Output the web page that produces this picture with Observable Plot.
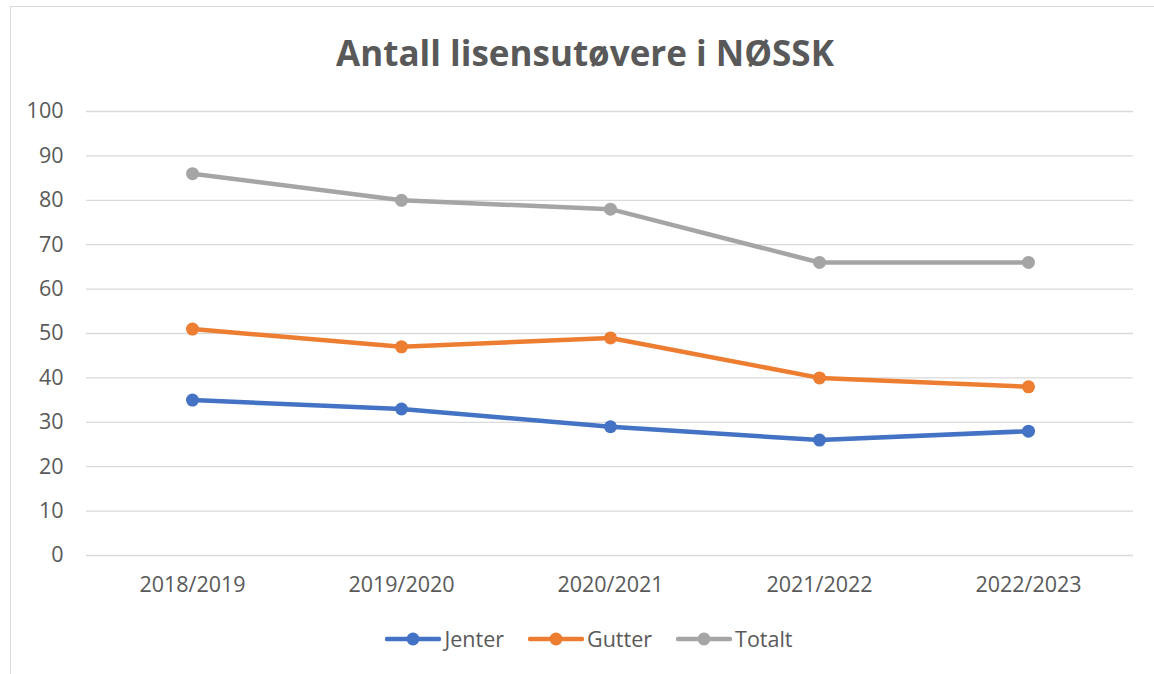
<!DOCTYPE html>
<html>
<head>
<meta charset="utf-8">
<script src="https://cdn.jsdelivr.net/npm/d3@7"></script>
<script src="https://cdn.jsdelivr.net/npm/@observablehq/plot@0.6"></script>
<style>
  html, body { margin: 0; padding: 0; background: #fff; }
  body { width: 1154px; height: 674px; overflow: hidden; position: relative; font-family: "Open Sans", sans-serif; color: #595959; }
  #frame { position: absolute; left: 10px; top: 6px; width: 1300px; height: 800px; border: 1.5px solid #D9D9D9; box-sizing: border-box; }
  #title { position: absolute; left: 0; top: 35px; width: 1170px; text-align: center; font-size: 35px; line-height: 36px; font-weight: 700; color: #595959; }
  #chart { position: absolute; left: 0; top: 0; }
  #legend { position: absolute; left: 0; top: 625px; width: 1178px; display: flex; justify-content: center; align-items: center; font-size: 21.5px; line-height: 28px; color: #595959; }
  .item { display: flex; align-items: center; margin: 0 12px; }
  .item svg { margin-right: 3px; }
</style>
</head>
<body>
<div id="frame"></div>
<div id="chart"></div>
<div id="title">Antall lisensutøvere i NØSSK</div>
<div id="legend"></div>
<script>
const seasons = ["2018/2019", "2019/2020", "2020/2021", "2021/2022", "2022/2023"];
const jenter = [35, 33, 29, 26, 28];
const gutter = [51, 47, 49, 40, 38];
const totalt = [86, 80, 78, 66, 66];
const seriesNames = ["Jenter", "Gutter", "Totalt"];
const seriesColors = ["#4472C4", "#ED7D31", "#A5A5A5"];
const yTicks = [0, 10, 20, 30, 40, 50, 60, 70, 80, 90, 100];

const seriesValues = [jenter, gutter, totalt];
const data = [];
seriesNames.forEach((name, i) => {
  seasons.forEach((s, j) => data.push({ series: name, season: s, value: seriesValues[i][j] }));
});

const plot = Plot.plot({
  width: 1154,
  height: 610,
  marginLeft: 86,
  marginRight: 21,
  marginTop: 111,
  marginBottom: 55,
  style: { fontFamily: "Open Sans, sans-serif", fontSize: "21.5px", color: "#595959", background: "transparent", overflow: "visible" },
  x: { type: "point", domain: seasons, padding: 0.5, label: null },
  y: { domain: [0, 100], label: null },
  color: { domain: seriesNames, range: seriesColors },
  marks: [
    Plot.gridY(yTicks, { stroke: "#D9D9D9", strokeOpacity: 1, strokeWidth: 1.3 }),
    Plot.axisY(yTicks, { tickSize: 0, tickPadding: 23, label: null, fill: "#595959" }),
    Plot.axisX(seasons, { tickSize: 0, tickPadding: 21, label: null, fill: "#595959" }),
    Plot.lineY(data, { x: "season", y: "value", z: "series", stroke: "series", strokeWidth: 4.5, strokeLinejoin: "round", strokeLinecap: "round" }),
    Plot.dot(data, { x: "season", y: "value", fill: "series", r: 6.5, stroke: null })
  ]
});
document.getElementById("chart").appendChild(plot);

const legend = document.getElementById("legend");
seriesNames.forEach((name, i) => {
  const item = document.createElement("div");
  item.className = "item";
  const svg = d3.create("svg").attr("width", 56).attr("height", 14);
  svg.append("line").attr("x1", 2).attr("x2", 54).attr("y1", 7).attr("y2", 7)
    .attr("stroke", seriesColors[i]).attr("stroke-width", 4.5).attr("stroke-linecap", "round");
  svg.append("circle").attr("cx", 28).attr("cy", 7).attr("r", 6.5).attr("fill", seriesColors[i]);
  item.appendChild(svg.node());
  const label = document.createElement("span");
  label.textContent = name;
  item.appendChild(label);
  legend.appendChild(item);
});
</script>
</body>
</html>
